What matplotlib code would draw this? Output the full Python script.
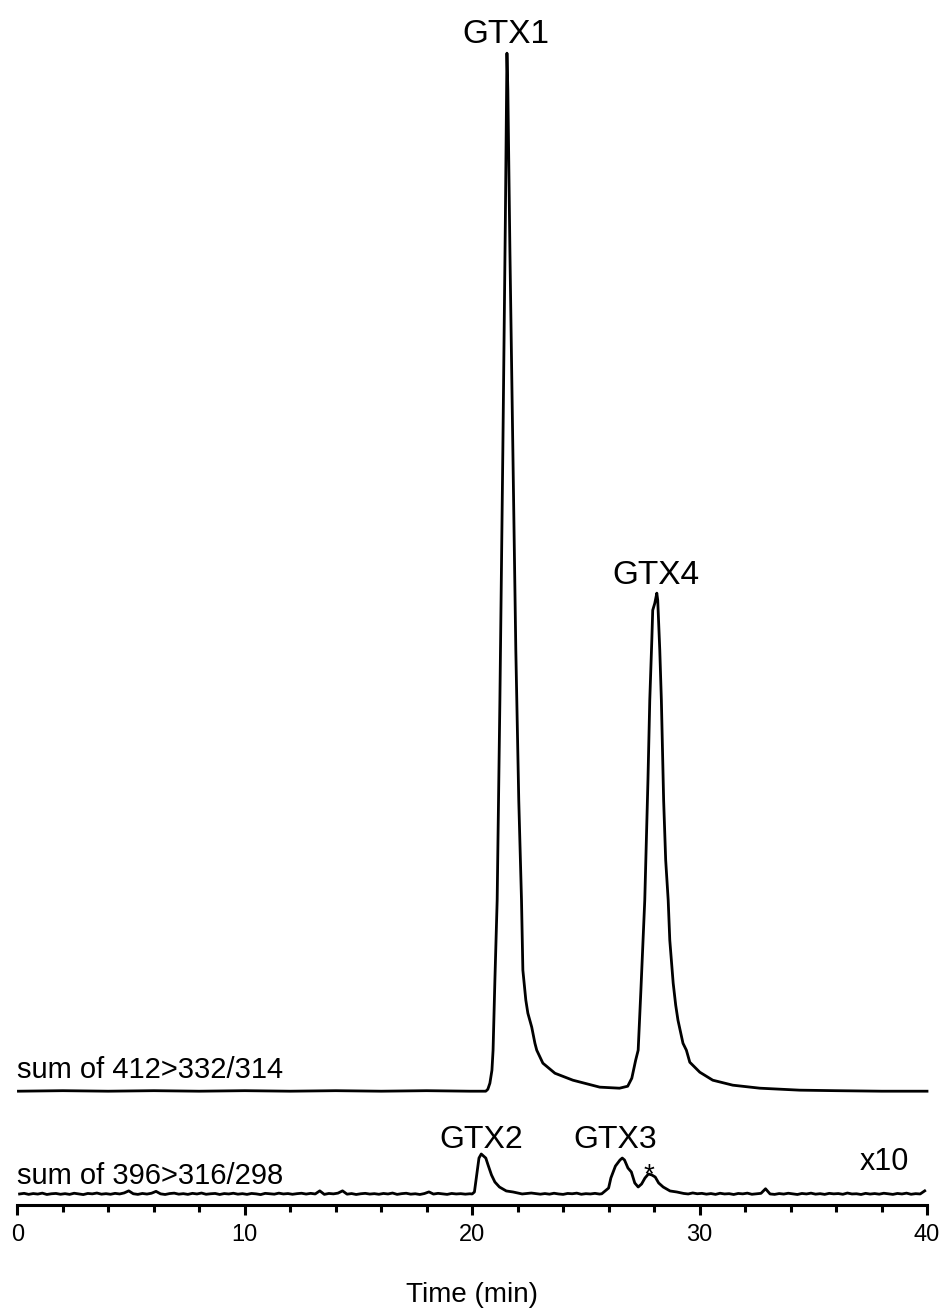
import matplotlib
matplotlib.use('Agg')
import matplotlib.pyplot as plt
from matplotlib.ticker import MultipleLocator

plt.rcParams['font.family'] = ['Liberation Sans', 'DejaVu Sans']

# ---- data: sum of 412>332/314 (relative intensity, % of GTX1) ----
upper_time = [0.05, 2.0, 4.0, 6.0, 8.0, 10.0, 12.0, 14.0, 16.0, 18.0, 19.9,
              20.60, 20.69, 20.78, 20.87, 20.92, 21.00, 21.10, 21.22, 21.35, 21.46, 21.53,
              21.57, 21.66, 21.79, 21.92, 22.05, 22.17, 22.23, 22.36, 22.45, 22.62, 22.76,
              22.84, 23.11, 23.64, 24.43, 25.61, 26.48,
              26.84, 27.02, 27.19, 27.30, 27.42, 27.59, 27.73, 27.81, 27.90, 27.94, 28.03, 28.12,
              28.16, 28.25, 28.32, 28.42, 28.51, 28.62, 28.69, 28.84, 28.95, 29.05, 29.27, 29.42,
              29.57, 30.01, 30.58, 31.46, 32.65, 34.40, 36.0, 38.0, 40.0]
upper_int = [0.0, 0.05, 0.0, 0.05, 0.0, 0.05, 0.0, 0.05, 0.0, 0.05, 0.0,
             0.0, 0.19, 0.77, 2.02, 3.95, 10.69, 18.4, 37.7, 61.8, 83.9, 100.0,
             96.4, 81.0, 61.8, 42.5, 28.0, 18.4, 11.66, 8.77, 7.51, 6.17, 4.62,
             3.95, 2.70, 1.73, 1.06, 0.39, 0.29,
             0.48, 1.25, 2.99, 3.95, 9.73, 18.4, 29.96, 37.67, 43.45, 46.34, 47.0, 47.98,
             47.3, 42.5, 37.67, 28.0, 22.25, 18.4, 14.55, 10.40, 8.29, 6.84, 4.62, 3.95,
             2.79, 1.83, 1.06, 0.58, 0.29, 0.10, 0.05, 0.0, 0.0]

# ---- data: sum of 396>316/298 (relative intensity, % of GTX1; drawn x10) ----
# baseline 0.1 - 19.9 min
lower_base1_time = [0.1, 0.3, 0.5, 0.7, 0.9, 1.1, 1.3, 1.5, 1.7, 1.9,
                    2.1, 2.3, 2.5, 2.7, 2.9, 3.1, 3.3, 3.5, 3.7, 3.9,
                    4.1, 4.3, 4.5, 4.7, 4.9, 5.1, 5.3, 5.5, 5.7, 5.9,
                    6.1, 6.3, 6.5, 6.7, 6.9, 7.1, 7.3, 7.5, 7.7, 7.9,
                    8.1, 8.3, 8.5, 8.7, 8.9, 9.1, 9.3, 9.5, 9.7, 9.9,
                    10.1, 10.3, 10.5, 10.7, 10.9, 11.1, 11.3, 11.5, 11.7, 11.9,
                    12.1, 12.3, 12.5, 12.7, 12.9, 13.1, 13.3, 13.5, 13.7, 13.9,
                    14.1, 14.3, 14.5, 14.7, 14.9, 15.1, 15.3, 15.5, 15.7, 15.9,
                    16.1, 16.3, 16.5, 16.7, 16.9, 17.1, 17.3, 17.5, 17.7, 17.9,
                    18.1, 18.3, 18.5, 18.7, 18.9, 19.1, 19.3, 19.5, 19.7, 19.9]
lower_base1_int = [0.010, 0.016, 0.006, 0.014, 0.009, 0.018, 0.005, 0.012, 0.015, 0.007,
                   0.013, 0.006, 0.017, 0.010, 0.004, 0.015, 0.011, 0.019, 0.008, 0.013,
                   0.007, 0.016, 0.010, 0.020, 0.040, 0.012, 0.006, 0.015, 0.009, 0.017,
                   0.035, 0.011, 0.005, 0.014, 0.018, 0.008, 0.013, 0.006, 0.016, 0.010,
                   0.019, 0.007, 0.012, 0.015, 0.005, 0.014, 0.010, 0.017, 0.008, 0.013,
                   0.006, 0.015, 0.011, 0.004, 0.016, 0.012, 0.008, 0.018, 0.010, 0.014,
                   0.007, 0.013, 0.017, 0.009, 0.016, 0.010, 0.040, 0.006, 0.015, 0.011,
                   0.018, 0.040, 0.008, 0.014, 0.005, 0.012, 0.016, 0.009, 0.013, 0.007,
                   0.015, 0.010, 0.019, 0.006, 0.013, 0.017, 0.008, 0.012, 0.005, 0.014,
                   0.030, 0.009, 0.016, 0.011, 0.006, 0.015, 0.010, 0.013, 0.008, 0.012]
# GTX2 peak
lower_gtx2_time = [20.0, 20.1, 20.2, 20.3, 20.4, 20.5, 20.6, 20.7, 20.85, 21.0,
                   21.2, 21.5, 21.8, 22.2, 22.6, 23.0]
lower_gtx2_int = [0.010, 0.029, 0.193, 0.356, 0.395, 0.376, 0.356, 0.289, 0.193, 0.125,
                  0.077, 0.039, 0.029, 0.010, 0.019, 0.008]
# baseline between peaks
lower_base2_time = [23.2, 23.4, 23.6, 23.8, 24.0, 24.2, 24.4, 24.6, 24.8, 25.0, 25.2, 25.4, 25.6]
lower_base2_int = [0.014, 0.008, 0.017, 0.010, 0.006, 0.015, 0.012, 0.018, 0.007, 0.013,
                   0.010, 0.016, 0.009]
# GTX3 and * peaks
lower_gtx3_time = [25.7, 25.85, 26.0, 26.1, 26.3, 26.5, 26.6, 26.7, 26.85, 27.0,
                   27.15, 27.3, 27.45, 27.6, 27.75, 27.9, 28.05, 28.2, 28.4, 28.7,
                   29.0, 29.3, 29.5]
lower_gtx3_int = [0.012, 0.039, 0.067, 0.164, 0.279, 0.337, 0.356, 0.337, 0.260, 0.222,
                  0.116, 0.077, 0.106, 0.164, 0.202, 0.193, 0.173, 0.116, 0.077, 0.039,
                  0.029, 0.015, 0.010]
# baseline 29.7 - 39.9 min
lower_base3_time = [29.7, 29.9, 30.1, 30.3, 30.5, 30.7, 30.9, 31.1, 31.3, 31.5,
                    31.7, 31.9, 32.1, 32.3, 32.5, 32.7, 32.9, 33.1, 33.3, 33.5,
                    33.7, 33.9, 34.1, 34.3, 34.5, 34.7, 34.9, 35.1, 35.3, 35.5,
                    35.7, 35.9, 36.1, 36.3, 36.5, 36.7, 36.9, 37.1, 37.3, 37.5,
                    37.7, 37.9, 38.1, 38.3, 38.5, 38.7, 38.9, 39.1, 39.3, 39.5,
                    39.7, 39.9]
lower_base3_int = [0.020, 0.012, 0.016, 0.008, 0.014, 0.006, 0.017, 0.010, 0.013, 0.005,
                   0.015, 0.011, 0.018, 0.007, 0.012, 0.016, 0.060, 0.010, 0.006, 0.014,
                   0.009, 0.017, 0.011, 0.005, 0.015, 0.010, 0.018, 0.008, 0.013, 0.006,
                   0.016, 0.011, 0.014, 0.007, 0.019, 0.010, 0.012, 0.005, 0.016, 0.009,
                   0.014, 0.008, 0.017, 0.011, 0.006, 0.015, 0.010, 0.018, 0.007, 0.013,
                   0.010, 0.040]

LOWER_SCALE = 10      # lower trace magnified x10
UPPER_OFFSET = 10     # vertical offset of upper trace

tick_major = 10
tick_minor = 2

lower_time = lower_base1_time + lower_gtx2_time + lower_base2_time + lower_gtx3_time + lower_base3_time
lower_int = lower_base1_int + lower_gtx2_int + lower_base2_int + lower_gtx3_int + lower_base3_int

fig = plt.figure(figsize=(9.41, 13.1), dpi=100)
ax = fig.add_axes([17.3 / 941, 105 / 1310, (927 - 17.3) / 941, 1165 / 1310])
ax.patch.set_alpha(0)

ax.plot(upper_time, [v + UPPER_OFFSET for v in upper_int], color='black', lw=2.0,
        solid_joinstyle='round', clip_on=False)
ax.plot(lower_time, [v * LOWER_SCALE for v in lower_int], color='black', lw=2.0,
        solid_joinstyle='round', clip_on=False)

ax.set_xlim(0, 40)
ax.set_ylim(-0.963, 111.27)
for s in ['left', 'right', 'top']:
    ax.spines[s].set_visible(False)
ax.spines['bottom'].set_linewidth(2.2)
ax.set_yticks([])
ax.xaxis.set_major_locator(MultipleLocator(tick_major))
ax.xaxis.set_minor_locator(MultipleLocator(tick_minor))
ax.tick_params(axis='x', which='major', length=7.5, width=2.2, labelsize=17, pad=6)
ax.tick_params(axis='x', which='minor', length=5, width=2.2)
ax.set_xlabel('Time (min)', fontsize=20)
ax.xaxis.label.set_va('baseline')
ax.xaxis.set_label_coords(0.5, -0.0833)

ax.text(21.5, 111.0, 'GTX1', ha='center', va='baseline', fontsize=24)
ax.text(28.1, 58.9, 'GTX4', ha='center', va='baseline', fontsize=24)
ax.text(20.4, 4.53, 'GTX2', ha='center', va='baseline', fontsize=23)
ax.text(26.27, 4.53, 'GTX3', ha='center', va='baseline', fontsize=23)
ax.text(27.76, 1.25, '*', ha='center', va='baseline', fontsize=20)
ax.text(38.14, 2.41, 'x10', ha='center', va='baseline', fontsize=22)
ax.text(0.0, 11.25, 'sum of 412>332/314', ha='left', va='baseline', fontsize=21)
ax.text(0.0, 1.06, 'sum of 396>316/298', ha='left', va='baseline', fontsize=21)

fig.savefig('out.png', dpi=100)
